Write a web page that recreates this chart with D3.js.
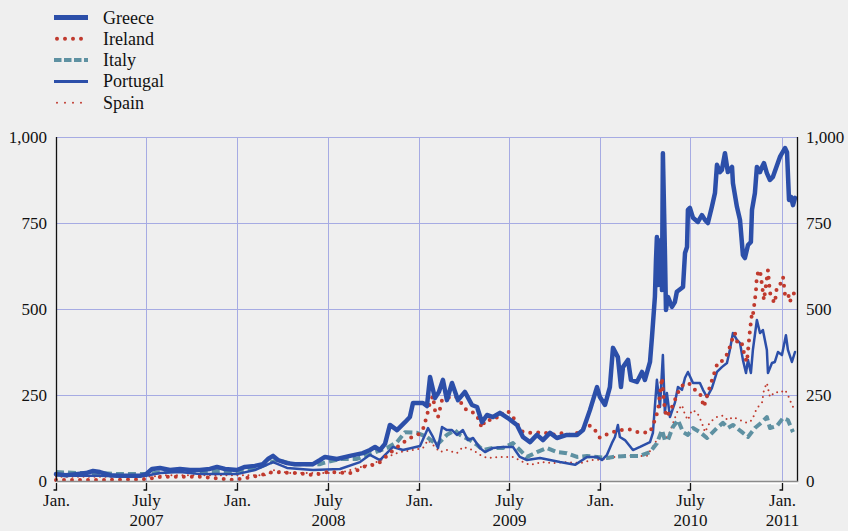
<!DOCTYPE html>
<html>
<head>
<meta charset="utf-8">
<script src="https://cdn.jsdelivr.net/npm/d3@7"></script>
<style>
  html, body { margin: 0; padding: 0; background: #efefef; }
  svg { display: block; font-family: "Liberation Serif", "Times New Roman", serif; }
</style>
</head>
<body>
<svg id="chart" width="848" height="531"></svg>
<script>
// ---- Data (decimal year, basis points) ----
const seriesNames = ["Greece", "Ireland", "Italy", "Portugal", "Spain"];

const greece = [[2007.000,20],[2007.055,17],[2007.110,20],[2007.165,23],[2007.204,29],[2007.242,26],[2007.298,17],[2007.353,15],[2007.408,15],[2007.463,15],[2007.496,20],[2007.529,35],[2007.573,38],[2007.628,32],[2007.683,35],[2007.738,32],[2007.793,32],[2007.848,35],[2007.887,41],[2007.931,35],[2007.997,32],[2008.041,41],[2008.096,44],[2008.140,49],[2008.168,64],[2008.196,73],[2008.223,61],[2008.273,52],[2008.317,49],[2008.372,49],[2008.416,49],[2008.455,61],[2008.482,70],[2008.548,64],[2008.620,73],[2008.691,81],[2008.730,90],[2008.758,99],[2008.785,90],[2008.813,108],[2008.840,163],[2008.879,148],[2008.923,171],[2008.950,186],[2008.967,227],[2009.022,227],[2009.044,218],[2009.061,302],[2009.088,241],[2009.110,259],[2009.132,294],[2009.154,235],[2009.182,285],[2009.215,235],[2009.253,259],[2009.292,221],[2009.320,215],[2009.347,171],[2009.375,192],[2009.408,186],[2009.446,198],[2009.490,183],[2009.540,163],[2009.573,128],[2009.612,113],[2009.650,134],[2009.683,119],[2009.722,140],[2009.760,125],[2009.815,134],[2009.871,134],[2009.904,148],[2009.942,206],[2009.981,273],[2009.997,244],[2010.025,221],[2010.052,273],[2010.069,387],[2010.096,360],[2010.113,273],[2010.124,331],[2010.152,352],[2010.168,294],[2010.201,288],[2010.229,317],[2010.245,294],[2010.273,346],[2010.284,419],[2010.300,535],[2010.306,642],[2010.311,709],[2010.317,570],[2010.322,700],[2010.328,576],[2010.333,671],[2010.339,555],[2010.344,953],[2010.355,671],[2010.361,497],[2010.372,535],[2010.394,506],[2010.410,520],[2010.421,550],[2010.455,564],[2010.466,663],[2010.477,680],[2010.482,788],[2010.493,794],[2010.510,765],[2010.537,753],[2010.559,773],[2010.576,759],[2010.592,750],[2010.614,797],[2010.631,837],[2010.642,919],[2010.658,898],[2010.669,904],[2010.686,953],[2010.702,898],[2010.725,913],[2010.730,866],[2010.752,797],[2010.769,759],[2010.785,657],[2010.796,648],[2010.813,686],[2010.829,695],[2010.835,788],[2010.851,837],[2010.862,913],[2010.879,898],[2010.890,913],[2010.901,924],[2010.917,895],[2010.934,875],[2010.950,884],[2010.989,942],[2011.017,968],[2011.028,956],[2011.039,817],[2011.050,826],[2011.061,802],[2011.072,823]];

const ireland = [[2007.000,3],[2007.242,3],[2007.496,5],[2007.573,12],[2007.793,12],[2007.975,3],[2008.085,12],[2008.196,26],[2008.328,23],[2008.416,17],[2008.493,26],[2008.636,23],[2008.691,41],[2008.747,47],[2008.785,55],[2008.840,81],[2008.895,105],[2008.950,125],[2008.994,134],[2009.022,150],[2009.044,190],[2009.061,230],[2009.077,247],[2009.088,206],[2009.105,186],[2009.127,235],[2009.171,244],[2009.198,247],[2009.226,235],[2009.242,215],[2009.281,200],[2009.309,198],[2009.325,183],[2009.347,154],[2009.364,177],[2009.391,177],[2009.419,186],[2009.446,183],[2009.463,200],[2009.490,203],[2009.518,186],[2009.545,163],[2009.573,142],[2009.628,140],[2009.683,142],[2009.733,134],[2009.777,140],[2009.832,134],[2009.887,142],[2009.926,163],[2009.959,157],[2009.997,125],[2010.052,140],[2010.107,148],[2010.163,150],[2010.218,140],[2010.273,142],[2010.300,177],[2010.317,206],[2010.339,300],[2010.344,265],[2010.355,206],[2010.366,186],[2010.394,215],[2010.410,235],[2010.438,270],[2010.466,285],[2010.493,282],[2010.521,265],[2010.548,256],[2010.570,215],[2010.592,256],[2010.620,302],[2010.647,346],[2010.675,350],[2010.702,372],[2010.725,410],[2010.741,430],[2010.758,395],[2010.780,398],[2010.796,360],[2010.807,346],[2010.824,439],[2010.835,488],[2010.840,482],[2010.851,526],[2010.857,555],[2010.862,599],[2010.879,613],[2010.890,570],[2010.901,526],[2010.912,570],[2010.923,613],[2010.934,547],[2010.950,526],[2010.961,517],[2010.972,564],[2010.989,570],[2011.006,593],[2011.017,541],[2011.033,547],[2011.044,520],[2011.055,541],[2011.072,547]];

const italy = [[2007.000,26],[2007.132,23],[2007.242,23],[2007.353,20],[2007.496,20],[2007.628,29],[2007.793,29],[2007.997,29],[2008.096,35],[2008.218,61],[2008.306,49],[2008.455,49],[2008.471,52],[2008.565,64],[2008.658,64],[2008.747,81],[2008.824,96],[2008.879,113],[2008.923,142],[2008.989,140],[2009.044,128],[2009.099,105],[2009.154,134],[2009.198,148],[2009.226,134],[2009.281,119],[2009.320,105],[2009.353,90],[2009.408,96],[2009.463,96],[2009.518,110],[2009.556,90],[2009.595,70],[2009.650,84],[2009.705,96],[2009.760,84],[2009.815,81],[2009.871,70],[2009.926,73],[2009.981,70],[2010.036,67],[2010.069,70],[2010.146,73],[2010.218,73],[2010.273,84],[2010.311,110],[2010.339,148],[2010.355,119],[2010.372,119],[2010.399,157],[2010.427,177],[2010.455,142],[2010.482,134],[2010.510,154],[2010.548,142],[2010.587,125],[2010.642,154],[2010.675,169],[2010.702,154],[2010.730,163],[2010.780,142],[2010.813,128],[2010.851,154],[2010.890,171],[2010.917,186],[2010.934,154],[2010.972,160],[2011.006,183],[2011.033,177],[2011.061,142]];

const portugal = [[2007.000,17],[2007.110,15],[2007.242,15],[2007.408,12],[2007.496,15],[2007.573,23],[2007.683,26],[2007.793,20],[2007.997,20],[2008.096,32],[2008.196,55],[2008.273,38],[2008.416,32],[2008.565,35],[2008.675,55],[2008.730,76],[2008.785,61],[2008.857,99],[2008.912,90],[2009.006,102],[2009.050,154],[2009.077,128],[2009.105,96],[2009.127,157],[2009.154,148],[2009.182,148],[2009.209,134],[2009.242,148],[2009.270,119],[2009.298,125],[2009.336,96],[2009.364,84],[2009.408,96],[2009.463,99],[2009.518,99],[2009.556,70],[2009.595,61],[2009.667,67],[2009.722,61],[2009.777,55],[2009.860,47],[2009.926,70],[2009.981,70],[2010.008,61],[2010.036,76],[2010.063,110],[2010.080,128],[2010.096,163],[2010.107,128],[2010.135,119],[2010.179,90],[2010.218,99],[2010.273,113],[2010.289,140],[2010.311,294],[2010.328,215],[2010.344,366],[2010.355,198],[2010.366,256],[2010.383,186],[2010.410,227],[2010.427,273],[2010.449,265],[2010.466,300],[2010.482,317],[2010.510,285],[2010.548,285],[2010.565,265],[2010.587,244],[2010.614,270],[2010.642,317],[2010.669,331],[2010.697,343],[2010.713,381],[2010.730,430],[2010.752,410],[2010.769,401],[2010.785,352],[2010.802,314],[2010.813,352],[2010.829,314],[2010.840,381],[2010.862,468],[2010.879,430],[2010.895,439],[2010.917,381],[2010.923,314],[2010.945,343],[2010.961,346],[2010.978,375],[2011.000,366],[2011.022,424],[2011.033,381],[2011.055,346],[2011.072,375]];

const spain = [[2007.000,12],[2007.242,12],[2007.496,12],[2007.612,17],[2007.793,17],[2007.997,17],[2008.163,17],[2008.196,32],[2008.289,23],[2008.455,23],[2008.565,23],[2008.675,40],[2008.747,50],[2008.824,70],[2008.895,84],[2008.967,90],[2009.022,96],[2009.050,119],[2009.077,105],[2009.116,84],[2009.154,90],[2009.209,81],[2009.242,99],[2009.298,90],[2009.336,76],[2009.375,67],[2009.446,70],[2009.518,70],[2009.573,55],[2009.612,47],[2009.683,55],[2009.738,52],[2009.815,55],[2009.887,52],[2009.959,61],[2010.036,64],[2010.124,76],[2010.179,73],[2010.256,73],[2010.311,119],[2010.339,140],[2010.355,119],[2010.383,142],[2010.410,183],[2010.427,206],[2010.449,221],[2010.466,192],[2010.482,177],[2010.504,206],[2010.532,200],[2010.559,169],[2010.576,142],[2010.603,171],[2010.642,186],[2010.675,190],[2010.702,177],[2010.730,186],[2010.769,177],[2010.807,169],[2010.835,177],[2010.862,212],[2010.890,227],[2010.901,265],[2010.917,285],[2010.934,244],[2010.961,259],[2010.989,256],[2011.017,265],[2011.033,250],[2011.055,221],[2011.072,206]];

const yTicks = [0, 250, 500, 750, 1000];
const xTicks = [2007.0, 2007.496, 2008.0, 2008.497, 2009.0, 2009.496, 2010.0, 2010.496, 2011.0];
const xTickLabels = [["Jan."], ["July", "2007"], ["Jan."], ["July", "2008"], ["Jan."], ["July", "2009"], ["Jan."], ["July", "2010"], ["Jan.", "2011"]];

// ---- Setup ----
const svg = d3.select("#chart");
const x = d3.scaleLinear().domain([2007.0, 2011.083]).range([56, 797]);
const y = d3.scaleLinear().domain([0, 1000]).range([481, 137]);

const gridColor = "#a6abe3";
const blue = "#2c4fa9";
const red = "#c03a2e";
const teal = "#5e91a2";

// gridlines
svg.append("g").selectAll("line.h").data(yTicks.filter(d => d > 0)).join("line")
  .attr("x1", x.range()[0]).attr("x2", x.range()[1])
  .attr("y1", d => y(d) + 0.5).attr("y2", d => y(d) + 0.5)
  .attr("stroke", gridColor).attr("stroke-width", 1);
svg.append("g").selectAll("line.v").data(xTicks.slice(1)).join("line")
  .attr("x1", d => Math.round(x(d)) + 0.5).attr("x2", d => Math.round(x(d)) + 0.5)
  .attr("y1", y(1000)).attr("y2", y(0))
  .attr("stroke", gridColor).attr("stroke-width", 1);

// series
const line = d3.line().x(d => x(d[0])).y(d => y(d[1]));
const styles = {
  Spain:    { data: spain,    color: red,  width: 2,   dash: "0,5.5", cap: "round" },
  Italy:    { data: italy,    color: teal, width: 4,   dash: "8,4",   cap: "butt" },
  Portugal: { data: portugal, color: blue, width: 2.5, dash: null,    cap: "round" },
  Ireland:  { data: ireland,  color: red,  width: 4,   dash: "0,8",   cap: "round" },
  Greece:   { data: greece,   color: blue, width: 4.5, dash: null,    cap: "round" }
};
["Spain", "Italy", "Portugal", "Ireland", "Greece"].forEach(name => {
  const s = styles[name];
  svg.append("path").datum(s.data)
    .attr("d", line)
    .attr("fill", "none")
    .attr("stroke", s.color)
    .attr("stroke-width", s.width)
    .attr("stroke-linejoin", "round")
    .attr("stroke-linecap", s.cap)
    .attr("stroke-dasharray", s.dash);
});

// axis frame
svg.append("line").attr("x1", 56.5).attr("x2", 56.5).attr("y1", y(1000)).attr("y2", y(0) + 1)
  .attr("stroke", "#111").attr("stroke-width", 1.3);
svg.append("line").attr("x1", 797.5).attr("x2", 797.5).attr("y1", y(1000)).attr("y2", y(0) + 1)
  .attr("stroke", "#111").attr("stroke-width", 1.3);
svg.append("line").attr("x1", 56).attr("x2", 798).attr("y1", y(0) + 0.5).attr("y2", y(0) + 0.5)
  .attr("stroke", "#8a8a8a").attr("stroke-width", 1.5);
svg.append("line").attr("x1", 56).attr("x2", 798).attr("y1", y(0) + 2.5).attr("y2", y(0) + 2.5)
  .attr("stroke", "#ffffff").attr("stroke-width", 1.5);

// y axes (left and right)
const leftAxis = d3.axisLeft(y).tickValues(yTicks).tickFormat(d3.format(",")).tickSize(0).tickPadding(9);
const rightAxis = d3.axisRight(y).tickValues(yTicks).tickFormat(d3.format(",")).tickSize(0).tickPadding(9);
const gl = svg.append("g").attr("transform", "translate(56,0)").call(leftAxis);
const gr = svg.append("g").attr("transform", "translate(797,0)").call(rightAxis);
[gl, gr].forEach(g => {
  g.select(".domain").remove();
  g.selectAll("text").attr("font-family", "Liberation Serif, Times New Roman, serif")
    .attr("font-size", 17).attr("fill", "#111").attr("dy", "0.33em");
});

// x ticks
const xt = svg.append("g").selectAll("g").data(xTicks).join("g")
  .attr("transform", d => `translate(${Math.round(x(d)) + 0.5},0)`);
xt.append("path").attr("d", `M0,${y(0) + 2} V${y(0) + 9} H-3`)
  .attr("fill", "none").attr("stroke", "#111").attr("stroke-width", 1.3);
xt.append("text")
  .attr("text-anchor", "middle")
  .attr("font-size", 17).attr("fill", "#111")
  .selectAll("tspan").data((d, i) => xTickLabels[i]).join("tspan")
  .attr("x", 0).attr("y", (d, i) => 506 + i * 20).text(d => d);

// legend
const legend = svg.append("g").selectAll("g").data(seriesNames).join("g")
  .attr("transform", (d, i) => `translate(0,${17.5 + i * 21.3})`);
legend.append("line")
  .attr("x1", d => styles[d].cap === "round" && styles[d].dash ? 57 : 54)
  .attr("x2", 88).attr("y1", 0).attr("y2", 0)
  .attr("stroke", d => styles[d].color)
  .attr("stroke-width", d => d === "Greece" ? 5 : (d === "Portugal" ? 3 : styles[d].width))
  .attr("stroke-linecap", d => styles[d].cap === "round" && styles[d].dash ? "round" : "butt")
  .attr("stroke-dasharray", d => d === "Italy" ? "7.5,2.5" : (d === "Ireland" ? "0,8" : (d === "Spain" ? "0,8" : null)));
legend.append("text")
  .attr("x", 103).attr("y", 6)
  .attr("font-size", 18).attr("fill", "#111")
  .text(d => d);
</script>
</body>
</html>
